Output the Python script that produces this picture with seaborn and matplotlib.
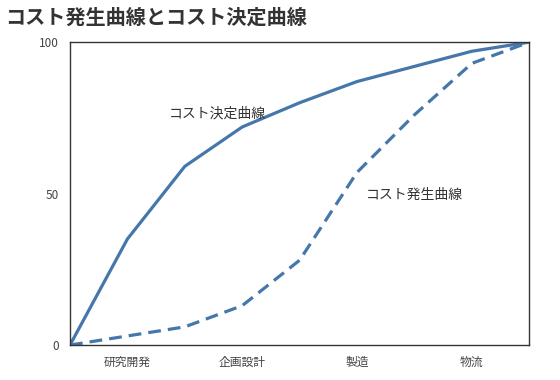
import matplotlib
matplotlib.use("Agg")
import matplotlib.pyplot as plt
import seaborn as sns
import pandas as pd

progress = [0, 0.5, 1.0, 1.5, 2.0, 2.5, 3.0, 3.5, 4.0]
decision = [0, 35, 59, 72, 80, 87, 92, 97, 100]
occurrence = [0, 3, 6, 13, 28, 57, 76, 93, 100]
stage_labels = ["研究開発", "企画設計", "製造", "物流"]
stage_pos = [0.5, 1.5, 2.5, 3.5]
yticks = [0, 50, 100]

sns.set_theme(style="white")
plt.rcParams['font.family'] = ['Noto Sans CJK JP', 'DejaVu Sans']

df = pd.DataFrame({
    "x": progress * 2,
    "y": decision + occurrence,
    "series": ["コスト決定曲線"] * len(progress) + ["コスト発生曲線"] * len(progress),
})

color = "#4677AA"
fig = plt.figure(figsize=(5.6, 3.8), dpi=100)
ax = fig.add_axes([0.125, 0.092, 0.82, 0.797])
sns.lineplot(data=df, x="x", y="y", style="series", ax=ax, color=color,
             linewidth=2.3, dashes={"コスト決定曲線": "", "コスト発生曲線": (4, 2.2)},
             legend=False)

ax.set_xlim(0, 4)
ax.set_ylim(0, 100)
ax.set_xticks(stage_pos)
ax.set_xticklabels(stage_labels)
ax.set_yticks(yticks)
ax.tick_params(axis="both", length=0, labelsize=8.5, colors="#444444", pad=8)
ax.set_xlabel("")
ax.set_ylabel("")
for s in ax.spines.values():
    s.set_color("#333333")
    s.set_linewidth(1.0)

ax.text(1.28, 76.5, "コスト決定曲線", ha="center", va="center", fontsize=10, color="#333333")
ax.text(3.0, 49.5, "コスト発生曲線", ha="center", va="center", fontsize=10, color="#333333")

fig.text(0.009, 0.955, "コスト発生曲線とコスト決定曲線", ha="left", va="center",
         fontsize=14.5, fontweight="bold", color="#333333")

fig.savefig("out.png", dpi=100)
